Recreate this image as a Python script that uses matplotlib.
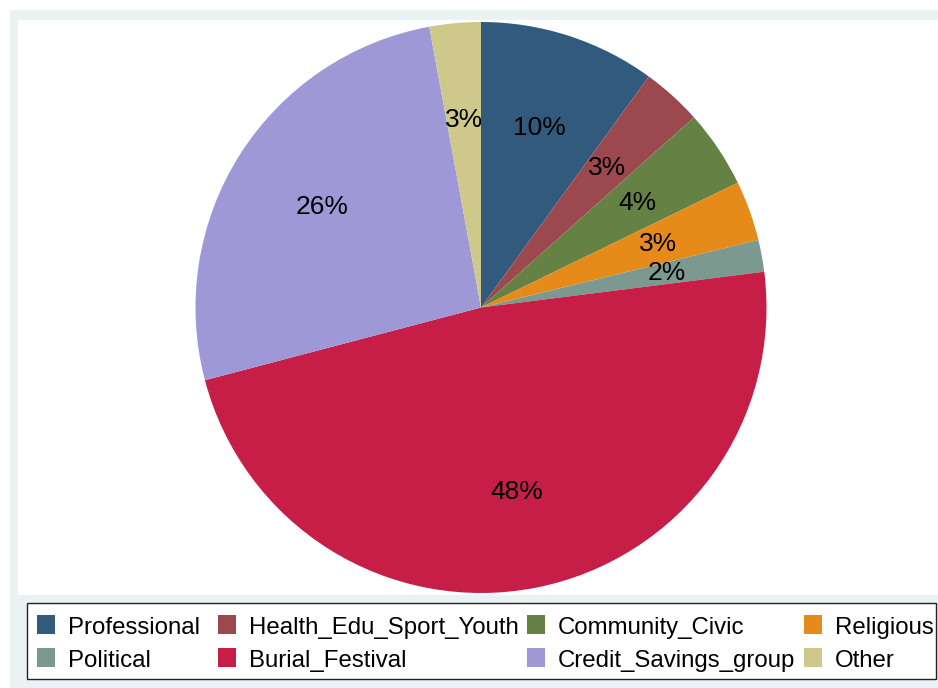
import matplotlib
matplotlib.use("Agg")
import matplotlib.pyplot as plt
from matplotlib.patches import Rectangle

plt.rcParams['font.family'] = ['Liberation Sans', 'DejaVu Sans']

groups = ['Professional', 'Health_Edu_Sport_Youth', 'Community_Civic', 'Religious',
          'Political', 'Burial_Festival', 'Credit_Savings_group', 'Other']
shares = [10.0, 3.4, 4.4, 3.4, 1.8, 47.9, 26.2, 2.9]
colors = ['#315A7D', '#9B494F', '#668144', '#E68B1A',
          '#7C9990', '#C71E48', '#9E98D6', '#CFC88B']

W, H = 938, 688
fig = plt.figure(figsize=(W / 100, H / 100), dpi=100)
fig.patch.set_facecolor('white')

def px_rect(x0, y0, x1, y1, **kw):
    # rectangle given in pixel coords measured from the top-left corner
    r = Rectangle((x0 / W, 1 - y1 / H), (x1 - x0) / W, (y1 - y0) / H,
                  transform=fig.transFigure, **kw)
    fig.add_artist(r)
    return r

# graph region background and white plot region
px_rect(10, 10, W, H, facecolor='#EAF2F3', edgecolor='none', zorder=0)
px_rect(18, 20, W, 595, facecolor='white', edgecolor='none', zorder=0)

# pie axes
cx, cy, R = 481, 307.5, 285.5
ax = fig.add_axes([(cx - R) / W, 1 - (cy + R) / H, 2 * R / W, 2 * R / H])
ax.set_zorder(2)
wedges, texts, autotexts = ax.pie(
    shares, colors=colors, startangle=90, counterclock=False,
    autopct='%1.0f%%', pctdistance=0.66, radius=1,
    wedgeprops=dict(linewidth=0),
    textprops=dict(fontsize=19, color='black'))
ax.set_xlim(-1, 1)
ax.set_ylim(-1, 1)
ax.set_aspect('equal')
ax.axis('off')

# legend box: 4 columns x 2 rows, entries go across the rows
px_rect(27, 603, 936, 679, facecolor='white', edgecolor='#222222',
        linewidth=1.0, zorder=1)
col_key_x = [37, 218, 527, 804]
row_key_y = [615, 648]
for k, (name, c) in enumerate(zip(groups, colors)):
    row, col = divmod(k, 4)
    kx, ky = col_key_x[col], row_key_y[row]
    px_rect(kx, ky, kx + 18, ky + 19, facecolor=c, edgecolor='none', zorder=3)
    fig.text((kx + 31) / W, 1 - (ky + 19) / H, name, fontsize=17.3,
             ha='left', va='baseline', zorder=3)

fig.savefig('out.png', dpi=100)
